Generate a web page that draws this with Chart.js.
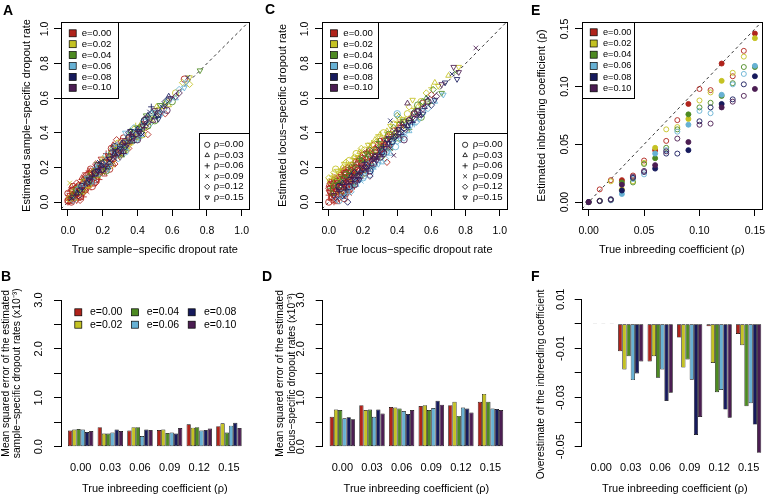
<!DOCTYPE html>
<html>
<head>
<meta charset="utf-8">
<title>Dropout rate and inbreeding coefficient estimates</title>
<script src="https://cdn.jsdelivr.net/npm/chart.js@4.4.1/dist/chart.umd.min.js"></script>
<style>
  html, body { margin: 0; padding: 0; background: #fff; }
  #fig { position: relative; width: 774px; height: 496px; overflow: hidden; }
  #fig canvas { position: absolute; }
  .tag { position: absolute; font: bold 14px/1 'Liberation Sans', Arial, sans-serif; color: #000; }
</style>
</head>
<body>
<div id="fig">
  <canvas id="panelA" width="258" height="262" style="left:0;top:0"></canvas>
  <canvas id="panelC" width="258" height="262" style="left:258px;top:0"></canvas>
  <canvas id="panelE" width="258" height="262" style="left:516px;top:0"></canvas>
  <canvas id="panelB" width="258" height="234" style="left:0;top:262px"></canvas>
  <canvas id="panelD" width="258" height="234" style="left:258px;top:262px"></canvas>
  <canvas id="panelF" width="258" height="234" style="left:516px;top:262px"></canvas>
  <div class="tag" style="left:3px;top:3px">A</div>
  <div class="tag" style="left:265px;top:2px">C</div>
  <div class="tag" style="left:531px;top:3px">E</div>
  <div class="tag" style="left:1px;top:269px">B</div>
  <div class="tag" style="left:262px;top:269px">D</div>
  <div class="tag" style="left:531px;top:269px">F</div>
</div>
<script>
const FONT = "'Liberation Sans', Arial, sans-serif";

// genotyping error levels (colours) and inbreeding levels (symbols)
const eLevels = ['0.00', '0.02', '0.04', '0.06', '0.08', '0.10'];
const eColors = ['#b0231b', '#c4c223', '#4d8a22', '#67b1d4', '#161a5c', '#4b1d52'];
const rhoLevels = ['0.00', '0.03', '0.06', '0.09', '0.12', '0.15'];
const rhoShapes = ['circle', 'triangle', 'cross', 'crossRot', 'rectRot', 'triangle'];
const rhoTurns = [0, 0, 0, 0, 0, 180];

// tick values
const scatterTicks = [0, 0.2, 0.4, 0.6, 0.8, 1.0];
const inbreedTicks = [0, 0.05, 0.10, 0.15];
const mseTicks = [0, 0.5, 1, 1.5, 2, 2.5, 3];
const biasTicks = [0.01, 0, -0.01, -0.02, -0.03, -0.04, -0.05];
const biasLabelled = [0.01, -0.01, -0.03, -0.05];
const barGroups = [0, 0.03, 0.06, 0.09, 0.12, 0.15];
const rhoGrid = [0, 0.01, 0.02, 0.03, 0.04, 0.05, 0.06, 0.07, 0.08, 0.09, 0.10, 0.11, 0.12, 0.13, 0.14, 0.15];

// A: true vs estimated sample-specific dropout rate, [true, estimate, rho index]
const sampleE000 = [[0.00,0.00,4],[0.00,0.01,0],[0.01,0.00,1],[0.02,0.00,0],[0.00,0.02,1],[0.01,0.01,5],[0.02,0.02,2],[0.03,0.01,4],[0.01,0.02,4],[0.02,0.01,2],[0.02,0.03,5],[0.03,0.02,0],[0.00,0.03,3],[0.03,0.04,1],[0.04,0.03,4],[0.01,0.04,5],[0.03,0.05,2],[0.04,0.04,5],[0.05,0.03,3],[0.04,0.05,0],[0.05,0.04,2],[0.02,0.05,3],[0.00,0.05,0],[0.05,0.01,5],[0.04,0.06,1],[0.05,0.05,0],[0.01,0.06,2],[0.06,0.02,1],[0.05,0.06,1],[0.06,0.05,4],[0.06,0.06,2],[0.03,0.07,0],[0.07,0.03,0],[0.07,0.01,4],[0.02,0.07,4],[0.07,0.07,5],[0.08,0.05,4],[0.06,0.08,5],[0.07,0.06,1],[0.04,0.08,4],[0.08,0.07,0],[0.05,0.08,0],[0.08,0.08,1],[0.02,0.09,1],[0.03,0.09,0],[0.09,0.03,2],[0.05,0.09,1],[0.09,0.05,5],[0.07,0.09,2],[0.09,0.08,3],[0.09,0.09,2],[0.10,0.07,0],[0.06,0.10,1],[0.08,0.10,5],[0.10,0.09,4],[0.07,0.11,3],[0.05,0.11,4],[0.11,0.06,3],[0.10,0.10,5],[0.11,0.08,2],[0.12,0.08,3],[0.08,0.13,2],[0.09,0.11,0],[0.11,0.10,1],[0.09,0.13,4],[0.11,0.11,0],[0.10,0.12,2],[0.12,0.11,5],[0.12,0.12,1],[0.13,0.10,4],[0.11,0.13,4],[0.13,0.12,0],[0.10,0.14,5],[0.08,0.14,1],[0.14,0.09,0],[0.13,0.13,2],[0.14,0.11,1],[0.15,0.11,0],[0.12,0.14,3],[0.14,0.13,1],[0.11,0.16,4],[0.10,0.16,5],[0.16,0.11,4],[0.12,0.16,0],[0.13,0.15,5],[0.14,0.14,5],[0.15,0.14,4],[0.15,0.15,3],[0.16,0.13,0],[0.17,0.13,5],[0.14,0.16,0],[0.16,0.15,2],[0.13,0.18,1],[0.12,0.18,2],[0.13,0.19,0],[0.18,0.13,2],[0.14,0.18,2],[0.15,0.17,1],[0.16,0.17,4],[0.17,0.16,3],[0.17,0.18,1],[0.18,0.16,5],[0.16,0.20,3],[0.18,0.19,4],[0.19,0.18,0],[0.18,0.21,2],[0.20,0.19,4],[0.19,0.20,1],[0.16,0.22,4],[0.21,0.16,1],[0.17,0.21,0],[0.20,0.17,3],[0.19,0.22,0],[0.22,0.19,4],[0.20,0.21,5],[0.21,0.20,1],[0.21,0.23,0],[0.23,0.21,5],[0.19,0.25,5],[0.24,0.19,0],[0.22,0.23,4],[0.22,0.25,1],[0.24,0.23,0],[0.24,0.26,4],[0.23,0.27,5],[0.26,0.22,1],[0.25,0.26,2],[0.26,0.25,0],[0.22,0.28,2],[0.27,0.22,4],[0.25,0.29,5],[0.26,0.33,1],[0.27,0.26,5],[0.27,0.28,2],[0.25,0.31,0],[0.30,0.26,5],[0.28,0.36,4],[0.28,0.30,4],[0.29,0.28,0],[0.29,0.32,4],[0.30,0.29,1],[0.31,0.31,5],[0.33,0.31,2],[0.31,0.35,0],[0.32,0.33,0],[0.32,0.37,0],[0.33,0.34,2],[0.35,0.31,4],[0.34,0.36,4],[0.35,0.34,1],[0.36,0.35,5],[0.37,0.38,4],[0.38,0.40,1],[0.39,0.38,0],[0.40,0.41,2],[0.41,0.42,0],[0.43,0.45,1],[0.45,0.43,4],[0.46,0.39,4],[0.56,0.51,4],[0.67,0.71,0]];
const sampleE002 = [[0.01,0.02,0],[0.04,0.02,1],[0.03,0.06,4],[0.01,0.11,3],[0.06,0.09,2],[0.07,0.05,2],[0.09,0.06,4],[0.09,0.12,5],[0.11,0.09,1],[0.12,0.10,0],[0.14,0.17,4],[0.16,0.19,3],[0.17,0.15,1],[0.19,0.21,3],[0.20,0.25,1],[0.21,0.18,5],[0.23,0.25,0],[0.24,0.27,2],[0.25,0.21,4],[0.26,0.24,4],[0.28,0.31,2],[0.29,0.34,0],[0.30,0.32,0],[0.31,0.28,1],[0.33,0.35,5],[0.34,0.30,5],[0.35,0.33,4],[0.36,0.34,1],[0.37,0.39,0],[0.38,0.42,4],[0.39,0.44,2],[0.40,0.37,3],[0.42,0.45,1],[0.43,0.39,0],[0.44,0.42,2],[0.45,0.44,5],[0.47,0.49,5],[0.48,0.46,4],[0.49,0.50,2],[0.51,0.55,1],[0.52,0.53,0],[0.55,0.55,1],[0.57,0.58,4],[0.58,0.56,1],[0.62,0.63,0],[0.66,0.69,4],[0.70,0.68,4],[0.70,0.72,5]];
const sampleE004 = [[0.02,0.03,1],[0.04,0.05,4],[0.05,0.07,0],[0.08,0.06,5],[0.10,0.13,4],[0.12,0.15,1],[0.13,0.11,2],[0.15,0.14,3],[0.16,0.18,0],[0.17,0.22,5],[0.18,0.16,4],[0.20,0.23,1],[0.21,0.20,2],[0.22,0.18,0],[0.23,0.21,5],[0.25,0.28,0],[0.26,0.31,4],[0.27,0.30,5],[0.29,0.27,4],[0.30,0.33,2],[0.31,0.27,1],[0.32,0.30,0],[0.33,0.31,1],[0.34,0.34,2],[0.35,0.38,4],[0.36,0.41,1],[0.37,0.41,3],[0.38,0.36,0],[0.39,0.39,1],[0.40,0.43,5],[0.41,0.37,2],[0.42,0.44,4],[0.43,0.41,3],[0.44,0.47,0],[0.45,0.50,5],[0.46,0.44,0],[0.47,0.48,4],[0.49,0.52,3],[0.50,0.47,0],[0.51,0.50,1],[0.53,0.56,5],[0.56,0.57,1],[0.60,0.58,0],[0.76,0.76,5]];
const sampleE006 = [[0.03,0.01,4],[0.06,0.07,0],[0.07,0.09,5],[0.09,0.10,1],[0.11,0.14,5],[0.13,0.12,0],[0.15,0.12,4],[0.16,0.20,2],[0.17,0.16,1],[0.18,0.20,0],[0.20,0.22,4],[0.21,0.22,2],[0.22,0.27,4],[0.23,0.19,5],[0.24,0.22,1],[0.26,0.29,5],[0.27,0.27,0],[0.28,0.33,1],[0.29,0.25,4],[0.30,0.31,2],[0.32,0.34,0],[0.33,0.40,5],[0.33,0.29,0],[0.34,0.31,3],[0.36,0.36,4],[0.37,0.39,5],[0.38,0.43,4],[0.39,0.41,1],[0.40,0.36,5],[0.41,0.39,5],[0.42,0.38,2],[0.43,0.43,1],[0.44,0.46,0],[0.46,0.48,2],[0.47,0.45,4],[0.48,0.51,1],[0.50,0.52,5],[0.52,0.50,4],[0.54,0.51,5],[0.55,0.54,0],[0.58,0.59,0],[0.62,0.60,1],[0.64,0.65,4],[0.67,0.66,5],[0.68,0.69,5]];
const sampleE008 = [[0.02,0.02,3],[0.05,0.05,1],[0.07,0.07,4],[0.08,0.09,0],[0.11,0.11,4],[0.12,0.13,5],[0.14,0.15,2],[0.16,0.17,0],[0.17,0.18,5],[0.18,0.23,3],[0.19,0.21,1],[0.20,0.19,0],[0.22,0.24,4],[0.23,0.20,1],[0.24,0.25,5],[0.25,0.23,3],[0.27,0.28,1],[0.27,0.32,0],[0.29,0.29,0],[0.30,0.31,5],[0.32,0.34,4],[0.32,0.28,2],[0.33,0.32,4],[0.35,0.37,0],[0.36,0.41,5],[0.37,0.35,1],[0.38,0.38,2],[0.40,0.42,1],[0.41,0.41,5],[0.42,0.40,4],[0.43,0.39,3],[0.44,0.47,0],[0.45,0.45,3],[0.46,0.50,1],[0.47,0.52,3],[0.48,0.55,2],[0.50,0.49,1],[0.52,0.48,5],[0.52,0.51,0],[0.54,0.55,3],[0.56,0.58,4],[0.58,0.61,1],[0.69,0.72,3]];
const sampleE010 = [[0.03,0.03,5],[0.06,0.04,0],[0.08,0.08,2],[0.10,0.11,3],[0.12,0.12,0],[0.13,0.14,1],[0.15,0.17,5],[0.16,0.16,4],[0.17,0.21,0],[0.18,0.18,1],[0.19,0.20,2],[0.21,0.23,4],[0.21,0.18,3],[0.22,0.21,5],[0.24,0.26,0],[0.26,0.27,1],[0.26,0.30,2],[0.27,0.25,3],[0.29,0.28,5],[0.30,0.30,4],[0.31,0.34,1],[0.32,0.29,1],[0.33,0.35,0],[0.34,0.33,5],[0.35,0.40,4],[0.36,0.39,2],[0.37,0.37,0],[0.39,0.39,4],[0.40,0.36,0],[0.41,0.40,5],[0.43,0.44,5],[0.44,0.43,2],[0.45,0.48,0],[0.46,0.46,4],[0.49,0.47,1],[0.50,0.53,5],[0.51,0.51,3],[0.53,0.52,4],[0.56,0.55,3],[0.57,0.53,0],[0.59,0.60,5],[0.62,0.61,4],[0.64,0.63,4]];

// C: true vs estimated locus-specific dropout rate, [true, estimate, rho index]
const locusE000 = [[0.00,0.00,0],[0.01,0.02,1],[0.02,0.01,4],[0.00,0.04,2],[0.01,0.04,3],[0.02,0.03,0],[0.03,0.03,5],[0.03,0.00,2],[0.04,0.01,3],[0.04,0.03,0],[0.05,0.00,1],[0.00,0.06,5],[0.01,0.06,0],[0.02,0.05,1],[0.03,0.06,4],[0.04,0.05,5],[0.04,0.07,1],[0.05,0.04,1],[0.06,0.02,5],[0.06,0.04,4],[0.07,0.03,3],[0.00,0.08,4],[0.01,0.08,0],[0.02,0.08,3],[0.03,0.08,2],[0.04,0.09,0],[0.05,0.07,0],[0.06,0.07,4],[0.06,0.05,3],[0.07,0.05,2],[0.08,0.03,1],[0.09,0.02,0],[0.09,0.05,0],[0.00,0.10,1],[0.01,0.10,5],[0.02,0.11,5],[0.03,0.11,4],[0.04,0.11,2],[0.05,0.10,2],[0.06,0.09,0],[0.05,0.12,0],[0.06,0.11,1],[0.07,0.10,3],[0.07,0.08,4],[0.08,0.06,5],[0.09,0.08,1],[0.08,0.09,3],[0.10,0.06,4],[0.11,0.05,5],[0.12,0.05,3],[0.12,0.07,0],[0.00,0.12,3],[0.02,0.13,2],[0.03,0.13,1],[0.05,0.14,4],[0.06,0.14,5],[0.07,0.13,0],[0.07,0.15,5],[0.08,0.12,0],[0.09,0.11,1],[0.10,0.10,4],[0.10,0.08,2],[0.11,0.08,1],[0.11,0.10,0],[0.04,0.15,3],[0.07,0.16,4],[0.08,0.15,2],[0.08,0.17,3],[0.09,0.14,0],[0.09,0.17,4],[0.09,0.19,1],[0.10,0.13,3],[0.10,0.15,5],[0.10,0.19,2],[0.11,0.12,5],[0.11,0.15,1],[0.12,0.10,2],[0.12,0.13,5],[0.12,0.17,1],[0.13,0.08,4],[0.13,0.11,1],[0.13,0.13,2],[0.14,0.10,0],[0.08,0.18,1],[0.10,0.17,0],[0.11,0.18,3],[0.12,0.15,4],[0.13,0.16,4],[0.13,0.20,3],[0.14,0.13,3],[0.14,0.15,1],[0.14,0.20,4],[0.15,0.09,2],[0.15,0.11,5],[0.15,0.14,0],[0.15,0.18,5],[0.11,0.20,4],[0.12,0.20,2],[0.13,0.18,0],[0.14,0.18,2],[0.15,0.16,1],[0.16,0.13,5],[0.16,0.17,1],[0.16,0.25,2],[0.17,0.14,2],[0.17,0.21,3],[0.14,0.22,5],[0.15,0.21,3],[0.16,0.20,4],[0.16,0.23,0],[0.17,0.19,5],[0.17,0.16,4],[0.18,0.15,0],[0.18,0.18,0],[0.18,0.21,2],[0.18,0.23,5],[0.19,0.15,3],[0.19,0.18,1],[0.19,0.28,3],[0.17,0.24,1],[0.18,0.25,4],[0.19,0.22,4],[0.19,0.26,5],[0.20,0.18,1],[0.20,0.21,3],[0.20,0.24,2],[0.21,0.20,5],[0.21,0.17,0],[0.21,0.23,0],[0.20,0.27,0],[0.21,0.28,4],[0.22,0.25,4],[0.22,0.22,1],[0.22,0.29,2],[0.23,0.21,3],[0.23,0.26,0],[0.24,0.23,2],[0.24,0.26,1],[0.23,0.30,1],[0.24,0.29,5],[0.25,0.28,5],[0.25,0.24,4],[0.25,0.31,3],[0.26,0.25,5],[0.26,0.28,2],[0.27,0.26,0],[0.27,0.29,4],[0.26,0.33,4],[0.27,0.31,1],[0.28,0.31,3],[0.28,0.27,4],[0.29,0.27,1],[0.29,0.33,0],[0.30,0.29,5],[0.30,0.35,0],[0.31,0.31,0],[0.31,0.34,2],[0.32,0.33,4],[0.32,0.36,5],[0.33,0.36,4],[0.34,0.38,1],[0.34,0.23,4],[0.35,0.33,0],[0.35,0.40,3],[0.36,0.36,5],[0.36,0.33,2],[0.37,0.39,2],[0.38,0.41,0],[0.39,0.38,4],[0.40,0.42,5],[0.41,0.45,1],[0.42,0.44,4],[0.44,0.46,0],[0.47,0.48,1],[0.50,0.51,4],[0.55,0.57,0],[0.60,0.62,4]];
const locusE002 = [[0.00,0.14,4],[0.01,0.12,0],[0.02,0.15,2],[0.03,0.14,3],[0.03,0.17,4],[0.04,0.19,0],[0.05,0.14,1],[0.05,0.18,5],[0.06,0.06,4],[0.06,0.17,3],[0.07,0.19,2],[0.08,0.20,1],[0.09,0.22,5],[0.10,0.23,4],[0.11,0.21,3],[0.12,0.24,0],[0.13,0.22,5],[0.14,0.11,0],[0.14,0.25,2],[0.15,0.26,4],[0.16,0.28,0],[0.17,0.26,5],[0.18,0.29,1],[0.19,0.31,4],[0.20,0.24,3],[0.21,0.30,0],[0.22,0.19,2],[0.23,0.33,5],[0.24,0.33,3],[0.25,0.34,2],[0.26,0.30,0],[0.27,0.36,1],[0.28,0.35,4],[0.29,0.38,5],[0.30,0.39,1],[0.31,0.33,4],[0.32,0.40,0],[0.33,0.37,2],[0.34,0.41,1],[0.36,0.44,5],[0.37,0.39,0],[0.38,0.45,0],[0.40,0.46,2],[0.41,0.49,4],[0.43,0.42,4],[0.43,0.48,5],[0.45,0.47,1],[0.46,0.51,0],[0.47,0.55,4],[0.49,0.59,5],[0.50,0.54,2],[0.52,0.55,1],[0.54,0.58,0],[0.57,0.63,4],[0.60,0.66,2],[0.62,0.69,1],[0.64,0.67,5],[0.70,0.73,1],[0.76,0.78,5]];
const locusE004 = [[0.01,0.08,2],[0.02,0.05,1],[0.03,0.10,5],[0.04,0.12,4],[0.06,0.10,0],[0.07,0.12,1],[0.08,0.14,5],[0.09,0.06,4],[0.10,0.16,0],[0.11,0.15,5],[0.12,0.18,1],[0.13,0.20,4],[0.14,0.10,2],[0.15,0.22,3],[0.16,0.16,2],[0.17,0.19,0],[0.18,0.25,2],[0.19,0.24,1],[0.20,0.16,4],[0.21,0.25,0],[0.22,0.28,5],[0.23,0.27,1],[0.24,0.30,4],[0.25,0.21,5],[0.26,0.27,3],[0.28,0.30,0],[0.29,0.35,2],[0.30,0.32,5],[0.31,0.26,4],[0.32,0.29,0],[0.33,0.36,3],[0.35,0.39,0],[0.36,0.31,1],[0.37,0.35,4],[0.38,0.43,4],[0.39,0.40,1],[0.40,0.50,4],[0.41,0.37,0],[0.42,0.46,2],[0.44,0.47,5],[0.45,0.44,3],[0.47,0.42,2],[0.48,0.48,1],[0.50,0.52,4],[0.52,0.56,0],[0.54,0.49,0],[0.55,0.58,4],[0.57,0.60,1],[0.59,0.57,2],[0.61,0.65,4],[0.66,0.63,5],[0.74,0.75,3]];
const locusE006 = [[0.04,0.02,4],[0.06,0.01,0],[0.07,0.03,1],[0.08,0.05,0],[0.10,0.04,2],[0.11,0.06,1],[0.12,0.09,5],[0.13,0.06,4],[0.14,0.09,5],[0.15,0.13,2],[0.16,0.10,1],[0.17,0.12,4],[0.18,0.16,0],[0.19,0.12,3],[0.20,0.14,0],[0.21,0.15,4],[0.22,0.18,2],[0.23,0.22,1],[0.24,0.16,0],[0.25,0.19,5],[0.26,0.19,2],[0.27,0.21,5],[0.28,0.24,4],[0.29,0.22,5],[0.30,0.29,3],[0.31,0.23,1],[0.32,0.28,2],[0.33,0.25,4],[0.34,0.29,0],[0.35,0.31,4],[0.36,0.28,1],[0.37,0.33,5],[0.38,0.36,1],[0.39,0.32,0],[0.40,0.35,4],[0.40,0.51,0],[0.42,0.40,0],[0.42,0.36,5],[0.44,0.37,4],[0.45,0.39,3],[0.46,0.44,0],[0.47,0.41,1],[0.48,0.44,5],[0.50,0.45,2],[0.51,0.46,4],[0.53,0.48,5],[0.55,0.52,0],[0.58,0.54,4],[0.62,0.58,1],[0.67,0.62,5]];
const locusE008 = [[0.05,0.07,3],[0.06,0.09,0],[0.08,0.11,1],[0.09,0.03,3],[0.10,0.07,2],[0.11,0.00,4],[0.12,0.09,0],[0.13,0.15,1],[0.14,0.12,2],[0.15,0.17,4],[0.16,0.12,4],[0.17,0.15,1],[0.18,0.13,5],[0.19,0.17,5],[0.20,0.19,4],[0.21,0.23,2],[0.22,0.20,1],[0.23,0.20,3],[0.24,0.18,0],[0.25,0.25,3],[0.26,0.22,0],[0.27,0.26,4],[0.28,0.25,2],[0.30,0.27,1],[0.31,0.29,0],[0.32,0.32,2],[0.33,0.30,3],[0.34,0.36,4],[0.35,0.34,5],[0.36,0.47,3],[0.37,0.35,0],[0.38,0.37,4],[0.39,0.38,1],[0.41,0.42,5],[0.42,0.39,2],[0.43,0.40,3],[0.44,0.43,0],[0.46,0.44,1],[0.47,0.46,5],[0.49,0.46,2],[0.50,0.48,4],[0.52,0.52,0],[0.53,0.50,3],[0.55,0.51,5],[0.56,0.55,1],[0.58,0.60,3],[0.60,0.56,4],[0.62,0.59,5],[0.68,0.69,5],[0.72,0.74,3],[0.75,0.71,5]];
const locusE010 = [[0.03,0.04,5],[0.05,0.02,3],[0.06,0.06,2],[0.07,0.08,0],[0.09,0.10,4],[0.10,0.13,3],[0.11,0.11,1],[0.13,0.12,4],[0.14,0.14,3],[0.15,0.10,0],[0.16,0.15,1],[0.17,0.13,5],[0.18,0.17,2],[0.19,0.20,5],[0.20,0.21,4],[0.21,0.19,3],[0.22,0.21,0],[0.23,0.18,2],[0.24,0.15,4],[0.25,0.22,1],[0.26,0.25,4],[0.27,0.27,5],[0.28,0.24,5],[0.29,0.31,3],[0.30,0.26,0],[0.31,0.30,4],[0.32,0.28,0],[0.33,0.34,1],[0.34,0.32,2],[0.35,0.37,5],[0.36,0.31,3],[0.38,0.27,3],[0.39,0.40,4],[0.40,0.41,2],[0.41,0.38,3],[0.43,0.45,1],[0.44,0.36,0],[0.45,0.42,4],[0.46,0.57,1],[0.47,0.47,0],[0.49,0.49,4],[0.50,0.51,0],[0.52,0.53,5],[0.53,0.50,1],[0.55,0.54,4],[0.58,0.58,0],[0.63,0.61,4],[0.66,0.68,5],[0.73,0.78,5],[0.76,0.75,5],[0.86,0.89,3]];

// E: estimated inbreeding coefficient at each true rho in rhoGrid
const rhoHatE000 = [0.000, 0.011, 0.019, 0.019, 0.023, 0.036, 0.045, 0.053, 0.071, 0.085, 0.098, 0.097, 0.120, 0.109, 0.131, 0.146];
const rhoHatE002 = [0.000, 0.0012, 0.018, 0.011, 0.018, 0.034, 0.047, 0.063, 0.065, 0.072, 0.088, 0.095, 0.105, 0.112, 0.126, 0.142];
const rhoHatE004 = [0.000, 0.0008, 0.0018, 0.017, 0.017, 0.033, 0.038, 0.047, 0.063, 0.076, 0.082, 0.086, 0.092, 0.103, 0.117, 0.117];
const rhoHatE006 = [0.000, 0.001, 0.0015, 0.007, 0.020, 0.024, 0.042, 0.045, 0.061, 0.067, 0.079, 0.077, 0.093, 0.102, 0.111, 0.118];
const rhoHatE008 = [0.000, 0.001, 0.0025, 0.010, 0.021, 0.026, 0.029, 0.042, 0.042, 0.045, 0.070, 0.082, 0.085, 0.089, 0.102, 0.109];
const rhoHatE010 = [0.000, 0.001, 0.002, 0.015, 0.022, 0.027, 0.032, 0.044, 0.055, 0.052, 0.067, 0.068, 0.082, 0.087, 0.092, 0.098];

// B: MSE of sample-specific dropout rates (x10^-3), per barGroups
const mseSampleE000 = [0.33, 0.40, 0.33, 0.34, 0.46, 0.42];
const mseSampleE002 = [0.35, 0.27, 0.40, 0.35, 0.39, 0.48];
const mseSampleE004 = [0.36, 0.27, 0.40, 0.28, 0.40, 0.29];
const mseSampleE006 = [0.35, 0.29, 0.22, 0.29, 0.33, 0.43];
const mseSampleE008 = [0.30, 0.35, 0.35, 0.27, 0.34, 0.49];
const mseSampleE010 = [0.32, 0.32, 0.34, 0.38, 0.37, 0.38];

// D: MSE of locus-specific dropout rates (x10^-3), per barGroups
const mseLocusE000 = [0.61, 0.85, 0.81, 0.83, 0.85, 0.92];
const mseLocusE002 = [0.76, 0.75, 0.80, 0.85, 0.92, 1.08];
const mseLocusE004 = [0.75, 0.76, 0.78, 0.75, 0.63, 0.92];
const mseLocusE006 = [0.58, 0.61, 0.73, 0.79, 0.80, 0.78];
const mseLocusE008 = [0.60, 0.76, 0.67, 0.94, 0.78, 0.77];
const mseLocusE010 = [0.56, 0.68, 0.75, 0.86, 0.70, 0.75];

// F: overestimate of the inbreeding coefficient, per barGroups
const biasE000 = [-0.0002, -0.0111, -0.0153, -0.0056, -0.0010, -0.0041];
const biasE002 = [0.0002, -0.0186, -0.0132, -0.0178, -0.0159, -0.0087];
const biasE004 = [-0.0002, -0.0132, -0.0219, -0.0145, -0.0278, -0.0335];
const biasE006 = [0.0002, -0.0229, -0.0186, -0.0227, -0.0269, -0.0323];
const biasE008 = [-0.0002, -0.0202, -0.0314, -0.0452, -0.0349, -0.0410];
const biasE010 = [0.0002, -0.0153, -0.0280, -0.0379, -0.0382, -0.0525];

const sampleSeries = [sampleE000, sampleE002, sampleE004, sampleE006, sampleE008, sampleE010];
const locusSeries = [locusE000, locusE002, locusE004, locusE006, locusE008, locusE010];
const rhoHatSeries = [rhoHatE000, rhoHatE002, rhoHatE004, rhoHatE006, rhoHatE008, rhoHatE010];
const mseSampleSeries = [mseSampleE000, mseSampleE002, mseSampleE004, mseSampleE006, mseSampleE008, mseSampleE010];
const mseLocusSeries = [mseLocusE000, mseLocusE002, mseLocusE004, mseLocusE006, mseLocusE008, mseLocusE010];
const biasSeries = [biasE000, biasE002, biasE004, biasE006, biasE008, biasE010];

Chart.defaults.font.family = FONT;
Chart.defaults.color = '#000';

// axis in the style of base R graphics: outside ticks, rotated y labels
function rAxis(o) {
  const left = o.pos === 'left';
  return {
    type: 'linear',
    position: o.pos,
    min: o.min,
    max: o.max,
    bounds: 'data',
    offset: false,
    afterBuildTicks: (ax) => { ax.ticks = o.ticks.map((v) => ({ value: v })); },
    afterFit: (ax) => { if (left) ax.width = o.size; else ax.height = o.size; },
    grid: { display: o.marks !== false, offset: false, drawOnChartArea: false, drawTicks: o.marks !== false, tickLength: 7, color: '#000', lineWidth: 1 },
    border: { display: o.line !== false, color: '#000', width: 1 },
    ticks: {
      font: { size: o.fs },
      padding: o.tpad,
      autoSkip: false,
      minRotation: left ? 90 : 0,
      maxRotation: left ? 90 : 0,
      crossAlign: left ? 'center' : 'near',
      callback: o.fmt
    },
    title: {
      display: true,
      text: o.title,
      font: { size: o.tfs || 11, lineHeight: o.tlh || 1.2 },
      padding: left ? { top: o.titlePad, bottom: 0 } : { top: 0, bottom: o.titlePad }
    }
  };
}

const diagonal = {
  id: 'diagonal',
  beforeDatasetsDraw(chart) {
    const { ctx, chartArea: a, scales: { x, y } } = chart;
    ctx.save();
    ctx.beginPath();
    ctx.rect(a.left, a.top, a.width, a.height);
    ctx.clip();
    ctx.setLineDash([3, 3]);
    ctx.lineWidth = 0.8;
    ctx.strokeStyle = '#000';
    ctx.beginPath();
    ctx.moveTo(x.getPixelForValue(x.min), y.getPixelForValue(x.min));
    ctx.lineTo(x.getPixelForValue(x.max), y.getPixelForValue(x.max));
    ctx.stroke();
    ctx.restore();
  }
};

const frame = {
  id: 'frame',
  afterDatasetsDraw(chart) {
    const { ctx, chartArea: a } = chart;
    ctx.save();
    ctx.strokeStyle = '#000';
    ctx.lineWidth = 1;
    ctx.strokeRect(Math.round(a.left) + 0.5, Math.round(a.top) + 0.5, Math.round(a.width), Math.round(a.height));
    ctx.restore();
  }
};

function square(ctx, x, y, color) {
  ctx.fillStyle = color;
  ctx.fillRect(x - 3.5, y - 3.5, 7, 7);
  ctx.strokeStyle = '#000';
  ctx.lineWidth = 0.7;
  ctx.strokeRect(x - 3.5, y - 3.5, 7, 7);
}

// boxed colour legend in the top left corner of the plot
function colourBox(g) {
  return {
    id: 'colourBox',
    afterDraw(chart) {
      const { ctx, chartArea: a } = chart;
      const l = Math.round(a.left) + 0.5, t = Math.round(a.top) + 0.5;
      ctx.save();
      ctx.fillStyle = '#fff';
      ctx.fillRect(l, t, g.w, g.h);
      ctx.strokeStyle = '#000';
      ctx.lineWidth = 1;
      ctx.strokeRect(l, t, g.w, g.h);
      ctx.font = g.fs + 'px ' + FONT;
      ctx.textBaseline = 'middle';
      ctx.textAlign = 'left';
      eLevels.forEach((e, k) => {
        const y = a.top + g.y0 + k * g.dy;
        square(ctx, a.left + g.sx, y, eColors[k]);
        ctx.fillStyle = '#000';
        ctx.fillText('e=' + e, a.left + g.tx, y);
      });
      ctx.restore();
    }
  };
}

// boxed symbol legend in the bottom right corner of the plot
function symbolBox(g) {
  return {
    id: 'symbolBox',
    afterDraw(chart) {
      const { ctx, chartArea: a } = chart;
      const r = Math.round(a.right) + 0.5, b = Math.round(a.bottom) + 0.5;
      const l = r - g.w, t = b - g.h;
      ctx.save();
      ctx.fillStyle = '#fff';
      ctx.fillRect(l, t, g.w, g.h);
      ctx.strokeStyle = '#000';
      ctx.lineWidth = 1;
      ctx.strokeRect(l, t, g.w, g.h);
      ctx.font = g.fs + 'px ' + FONT;
      ctx.textBaseline = 'middle';
      ctx.textAlign = 'left';
      rhoLevels.forEach((rho, k) => {
        const y = t + g.y0 + k * g.dy;
        ctx.fillStyle = 'rgba(0,0,0,0)';
        ctx.strokeStyle = '#000';
        ctx.lineWidth = 0.8;
        Chart.helpers.drawPoint(ctx, { pointStyle: rhoShapes[k], rotation: rhoTurns[k], radius: 2.6, borderWidth: 0.8 }, l + g.sx, y);
        ctx.fillStyle = '#000';
        ctx.fillText('\u03c1=' + rho, l + g.tx, y);
      });
      ctx.restore();
    }
  };
}

// unboxed two-row colour legend for panel B
const barLegend = {
  id: 'barLegend',
  afterDraw(chart) {
    const { ctx, chartArea: a } = chart;
    const cols = [[17.3, 29], [74, 85.7], [130.7, 143]];
    const rows = [12.3, 24.7];
    ctx.save();
    ctx.font = '10.5px ' + FONT;
    ctx.textBaseline = 'middle';
    ctx.textAlign = 'left';
    eLevels.forEach((e, k) => {
      const c = cols[Math.floor(k / 2)], y = a.top + rows[k % 2];
      square(ctx, a.left + c[0], y, eColors[k]);
      ctx.fillStyle = '#000';
      ctx.fillText('e=' + e, a.left + c[1], y);
    });
    ctx.restore();
  }
};

function scatterSets(series, radius) {
  // drawn from highest e to lowest so that e=0.00 ends on top
  return series.map((pts, k) => ({
    label: 'e=' + eLevels[k],
    data: pts,
    borderColor: eColors[k],
    backgroundColor: 'rgba(0,0,0,0)',
    pointBackgroundColor: 'rgba(0,0,0,0)',
    pointBorderColor: eColors[k],
    pointBorderWidth: 0.85,
    pointRadius: radius,
    pointStyle: (c) => (c.raw ? rhoShapes[c.raw[2]] : 'circle'),
    pointRotation: (c) => (c.raw ? rhoTurns[c.raw[2]] : 0)
  })).reverse();
}

function barSets(series) {
  return series.map((vals, k) => ({
    label: 'e=' + eLevels[k],
    data: barGroups.map((g, i) => ({ x: g, y: vals[i] })),
    backgroundColor: eColors[k],
    borderColor: '#000',
    borderWidth: 0.7,
    borderSkipped: false,
    categoryPercentage: 6 / 7,
    barPercentage: 1,
    clip: false
  }));
}

const base = { responsive: false, animation: false, events: [], plugins: { legend: { display: false }, tooltip: { enabled: false } } };
const oneDec = (v) => v.toFixed(1);
const twoDec = (v) => v.toFixed(2);

// ---- A ----
new Chart(document.getElementById('panelA'), {
  type: 'scatter',
  data: { datasets: scatterSets(sampleSeries, 3.2) },
  options: {
    ...base,
    layout: { padding: { left: 0, right: 9, top: 22, bottom: 0 } },
    scales: {
      x: rAxis({ pos: 'bottom', min: -0.04, max: 1.04, ticks: scatterTicks, fmt: oneDec, fs: 10.5, tpad: 8.7, size: 53, title: 'True sample\u2212specific dropout rate', titlePad: 5.4 }),
      y: rAxis({ pos: 'left', min: -0.04, max: 1.04, ticks: scatterTicks, fmt: oneDec, fs: 10.5, tpad: 1.5, size: 61, title: 'Estimated sample\u2212specific dropout rate', titlePad: 20.4 })
    }
  },
  plugins: [diagonal, frame, colourBox({ w: 57, h: 76, sx: 11.7, tx: 20.7, y0: 11.3, dy: 10.9, fs: 9.6 }), symbolBox({ w: 50, h: 76, sx: 7.7, tx: 14.3, y0: 11.3, dy: 10.5, fs: 9.6 })]
});

// ---- C ----
new Chart(document.getElementById('panelC'), {
  type: 'scatter',
  data: { datasets: scatterSets(locusSeries, 3.2) },
  options: {
    ...base,
    layout: { padding: { left: 0, right: 6, top: 22, bottom: 0 } },
    scales: {
      x: rAxis({ pos: 'bottom', min: -0.04, max: 1.04, ticks: scatterTicks, fmt: oneDec, fs: 10.5, tpad: 8.7, size: 53, title: 'True locus\u2212specific dropout rate', titlePad: 5.4 }),
      y: rAxis({ pos: 'left', min: -0.04, max: 1.04, ticks: scatterTicks, fmt: oneDec, fs: 10.5, tpad: 3, size: 64, title: 'Estimated locus\u2212specific dropout rate', titlePad: 17.9 })
    }
  },
  plugins: [diagonal, frame, colourBox({ w: 56, h: 76, sx: 12, tx: 21.3, y0: 11.3, dy: 10.9, fs: 9.6 }), symbolBox({ w: 53, h: 76, sx: 10.6, tx: 18.3, y0: 11.3, dy: 10.5, fs: 9.6 })]
});

// ---- E ----
new Chart(document.getElementById('panelE'), {
  type: 'scatter',
  data: {
    datasets: rhoHatSeries.map((est, k) => ({
      label: 'e=' + eLevels[k],
      data: rhoGrid.map((r, i) => ({ x: r, y: est[i] })),
      pointBorderColor: eColors[k],
      pointBorderWidth: 0.9,
      pointRadius: 2.5,
      // simulated rho values are filled, the others open
      pointBackgroundColor: (c) => (c.dataIndex % 3 === 0 ? eColors[k] : 'rgba(0,0,0,0)')
    })).reverse()
  },
  options: {
    ...base,
    layout: { padding: { left: 0, right: 5, top: 22, bottom: 0 } },
    scales: {
      x: rAxis({ pos: 'bottom', min: -0.006, max: 0.156, ticks: inbreedTicks, fmt: twoDec, fs: 10.5, tpad: 8.7, size: 53, title: 'True inbreeding coefficient (\u03c1)', titlePad: 5.4 }),
      y: rAxis({ pos: 'left', min: -0.006, max: 0.156, ticks: inbreedTicks, fmt: twoDec, fs: 10.5, tpad: 0, size: 66, title: 'Estimated inbreeding coefficient (\u03c1\u0302)', titlePad: 19.4 })
    }
  },
  plugins: [diagonal, frame, colourBox({ w: 52, h: 76, sx: 11.7, tx: 21, y0: 10.3, dy: 11.2, fs: 9.2 })]
});

// ---- B, D, F bar panels ----
function barPanel(id, series, g) {
  return new Chart(document.getElementById(id), {
    type: 'bar',
    data: { datasets: barSets(series) },
    options: {
      ...base,
      layout: { padding: { left: 0, right: g.right, top: g.top, bottom: 0 } },
      scales: {
        x: rAxis({ pos: 'bottom', min: -0.0199, max: 0.1699, ticks: barGroups, fmt: twoDec, fs: 11, tpad: 14.2, size: 49.3, marks: false, line: false, title: 'True inbreeding coefficient (\u03c1)', titlePad: 0.4 }),
        y: rAxis({ pos: 'left', min: g.min, max: g.max, ticks: g.ticks, fmt: g.fmt, fs: 11, tpad: g.tpad, size: g.width, title: g.title, titlePad: g.titlePad, tfs: 10.3, tlh: 1.14 })
      }
    },
    plugins: g.plugins || []
  });
}

const mseFmt = (v) => (Number.isInteger(v) ? v.toFixed(1) : '');
const biasFmt = (v) => (biasLabelled.some((b) => Math.abs(b - v) < 1e-9) ? v.toFixed(2) : '');

barPanel('panelB', mseSampleSeries, {
  right: 9.4, top: 38, width: 61, min: 0, max: 3, ticks: mseTicks, fmt: mseFmt, tpad: 6.9, titlePad: 0,
  title: ['Mean squared error of the estimated', 'sample\u2212specific dropout rates (x10\u207b\u00b3)'],
  plugins: [barLegend]
});

barPanel('panelD', mseLocusSeries, {
  right: 5.7, top: 38, width: 64.7, min: 0, max: 3, ticks: mseTicks, fmt: mseFmt, tpad: 6.6, titlePad: 16.2,
  title: ['Mean squared error of the estimated', 'locus\u2212specific dropout rates (x10\u207b\u00b3)']
});

// trailing spaces move the centred title down the axis, as in the original
barPanel('panelF', biasSeries, {
  right: 4.7, top: 37.3, width: 65.7, min: -0.05, max: 0.01, ticks: biasTicks, fmt: biasFmt, tpad: 1.2, titlePad: 19,
  title: 'Overestimate of the inbreeding coefficient        '
});
</script>
</body>
</html>
